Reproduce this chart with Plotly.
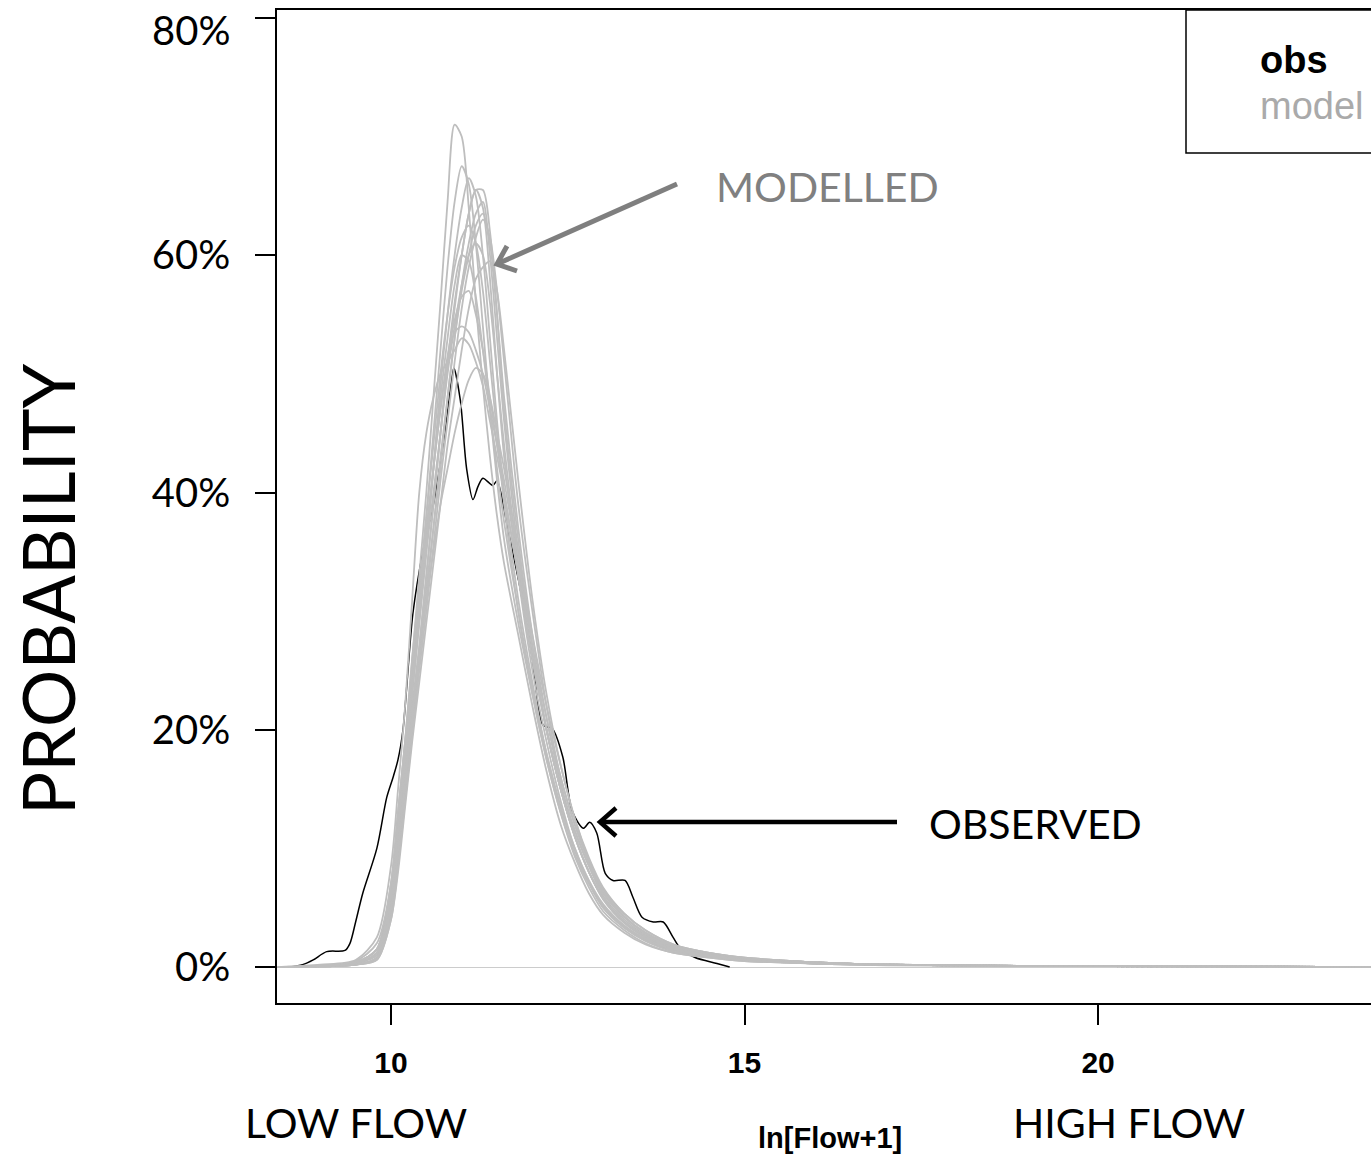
import plotly.graph_objects as go

# ---------------- data ----------------
X_OBS = [8.57, 8.75, 8.9, 9.09, 9.35, 9.42, 9.5, 9.6, 9.8, 9.94, 10.03, 10.1, 10.17, 10.31, 10.45,
         10.6, 10.66, 10.76, 10.86, 10.89, 10.98, 11.07, 11.16, 11.23, 11.30, 11.44, 11.5, 11.65, 11.85, 12.0,
         12.15, 12.28, 12.43, 12.56, 12.72, 12.81, 12.91, 13.03, 13.14, 13.31, 13.42, 13.55, 13.71,
         13.85, 13.99, 14.09, 14.3, 14.61, 14.79]
Y_OBS = [0.0, 0.002, 0.006, 0.013, 0.014, 0.02, 0.038, 0.062, 0.10, 0.143, 0.16, 0.175, 0.20, 0.298, 0.35,
         0.39, 0.41, 0.45, 0.495, 0.505, 0.478, 0.42, 0.394, 0.405, 0.412, 0.406, 0.41, 0.37, 0.312, 0.26,
         0.204, 0.201, 0.177, 0.132, 0.117, 0.122, 0.113, 0.079, 0.073, 0.073, 0.059, 0.042, 0.038,
         0.038, 0.025, 0.016, 0.008, 0.003, 0.0]

X_MOD = [8.4, 9.0, 9.5, 9.8, 10.0, 10.1, 10.2, 10.3, 10.4, 10.5, 10.6, 10.7, 10.8, 10.9, 11.0, 11.1,
         11.2, 11.3, 11.4, 11.5, 11.6, 11.8, 12.0, 12.2, 12.4, 12.6, 12.8, 13.0, 13.3, 13.6, 14.0,
         14.5, 15.0, 16.0, 17.0, 19.0, 23.86]

MOD_A = [0, 0.001, 0.004, 0.015, 0.07, 0.13, 0.19, 0.26, 0.33, 0.40, 0.48, 0.56, 0.645, 0.71, 0.70, 0.64,
         0.56, 0.49, 0.43, 0.38, 0.34, 0.28, 0.22, 0.165, 0.12, 0.088, 0.062, 0.044, 0.029, 0.019, 0.012,
         0.008, 0.005, 0.003, 0.0015, 0.001, 0]
MOD_B = [0, 0.001, 0.003, 0.012, 0.06, 0.12, 0.18, 0.24, 0.31, 0.38, 0.45, 0.52, 0.59, 0.645, 0.675, 0.66,
         0.61, 0.54, 0.47, 0.41, 0.36, 0.29, 0.23, 0.175, 0.13, 0.093, 0.067, 0.047, 0.031, 0.02, 0.012,
         0.008, 0.005, 0.003, 0.002, 0.001, 0]
MOD_C = [0, 0.0005, 0.003, 0.01, 0.055, 0.11, 0.17, 0.23, 0.29, 0.35, 0.42, 0.49, 0.55, 0.60, 0.64, 0.665,
         0.65, 0.60, 0.53, 0.46, 0.40, 0.31, 0.24, 0.18, 0.135, 0.098, 0.071, 0.05, 0.033, 0.022, 0.014,
         0.009, 0.006, 0.003, 0.002, 0.001, 0]
MOD_D = [0, 0.0005, 0.002, 0.008, 0.05, 0.10, 0.16, 0.22, 0.27, 0.33, 0.39, 0.45, 0.51, 0.56, 0.60, 0.635,
         0.655, 0.64, 0.58, 0.50, 0.43, 0.33, 0.25, 0.19, 0.14, 0.10, 0.072, 0.052, 0.034, 0.023, 0.014,
         0.009, 0.006, 0.003, 0.002, 0.001, 0]
MOD_E = [0, 0.0005, 0.002, 0.007, 0.045, 0.09, 0.15, 0.21, 0.26, 0.32, 0.37, 0.43, 0.48, 0.53, 0.575, 0.61,
         0.635, 0.645, 0.60, 0.53, 0.46, 0.35, 0.27, 0.20, 0.15, 0.11, 0.08, 0.057, 0.037, 0.025, 0.015,
         0.01, 0.007, 0.004, 0.002, 0.001, 0]
MOD_F = [0, 0.0005, 0.002, 0.008, 0.045, 0.095, 0.15, 0.20, 0.26, 0.31, 0.37, 0.42, 0.48, 0.53, 0.57, 0.60,
         0.625, 0.635, 0.61, 0.55, 0.48, 0.37, 0.28, 0.21, 0.155, 0.115, 0.085, 0.06, 0.04, 0.027, 0.016,
         0.011, 0.007, 0.004, 0.002, 0.001, 0]
MOD_G = [0, 0.001, 0.004, 0.015, 0.07, 0.13, 0.19, 0.26, 0.32, 0.38, 0.44, 0.50, 0.55, 0.59, 0.615, 0.625,
         0.61, 0.57, 0.51, 0.45, 0.39, 0.30, 0.23, 0.175, 0.13, 0.095, 0.07, 0.05, 0.033, 0.022, 0.013,
         0.009, 0.006, 0.003, 0.002, 0.001, 0]
MOD_H = [0, 0.0005, 0.003, 0.012, 0.06, 0.115, 0.17, 0.23, 0.29, 0.35, 0.40, 0.45, 0.50, 0.54, 0.575, 0.60,
         0.61, 0.60, 0.56, 0.50, 0.44, 0.34, 0.26, 0.20, 0.15, 0.11, 0.08, 0.058, 0.038, 0.026, 0.016,
         0.01, 0.007, 0.004, 0.002, 0.001, 0]
MOD_I = [0, 0.001, 0.004, 0.015, 0.065, 0.12, 0.18, 0.24, 0.30, 0.36, 0.42, 0.47, 0.515, 0.545, 0.565, 0.57,
         0.55, 0.52, 0.48, 0.44, 0.40, 0.33, 0.26, 0.20, 0.15, 0.115, 0.085, 0.062, 0.042, 0.029, 0.018,
         0.012, 0.008, 0.004, 0.002, 0.001, 0]
MOD_J = [0, 0.001, 0.005, 0.02, 0.07, 0.13, 0.19, 0.25, 0.31, 0.37, 0.42, 0.47, 0.51, 0.535, 0.54, 0.535,
         0.52, 0.50, 0.47, 0.44, 0.41, 0.34, 0.27, 0.21, 0.16, 0.12, 0.09, 0.066, 0.045, 0.031, 0.019,
         0.012, 0.008, 0.004, 0.002, 0.001, 0]
MOD_K = [0, 0.002, 0.006, 0.025, 0.085, 0.15, 0.22, 0.31, 0.40, 0.45, 0.48, 0.50, 0.51, 0.52, 0.53, 0.525,
         0.51, 0.49, 0.46, 0.43, 0.40, 0.33, 0.26, 0.20, 0.15, 0.11, 0.08, 0.058, 0.038, 0.026, 0.016,
         0.01, 0.007, 0.004, 0.002, 0.001, 0]
MOD_L = [0, 0.001, 0.004, 0.015, 0.06, 0.11, 0.16, 0.21, 0.26, 0.31, 0.35, 0.39, 0.42, 0.45, 0.475, 0.495,
         0.505, 0.50, 0.48, 0.45, 0.42, 0.35, 0.28, 0.22, 0.17, 0.125, 0.092, 0.067, 0.045, 0.031, 0.019,
         0.012, 0.008, 0.004, 0.002, 0.001, 0]
MOD_M = [0, 0.0005, 0.002, 0.006, 0.04, 0.085, 0.14, 0.195, 0.25, 0.30, 0.355, 0.41, 0.46, 0.51, 0.555, 0.59,
         0.615, 0.63, 0.615, 0.57, 0.51, 0.39, 0.30, 0.22, 0.16, 0.12, 0.088, 0.063, 0.042, 0.028, 0.017,
         0.011, 0.007, 0.004, 0.002, 0.001, 0]
MOD_N = [0, 0.0005, 0.002, 0.006, 0.04, 0.08, 0.135, 0.19, 0.24, 0.29, 0.34, 0.39, 0.44, 0.48, 0.52, 0.555,
         0.58, 0.59, 0.595, 0.57, 0.52, 0.41, 0.31, 0.23, 0.17, 0.125, 0.09, 0.065, 0.043, 0.029, 0.018,
         0.011, 0.007, 0.004, 0.002, 0.001, 0]
MOD_O = [0, 0.0005, 0.002, 0.008, 0.05, 0.10, 0.155, 0.21, 0.27, 0.33, 0.39, 0.45, 0.505, 0.555, 0.60, 0.635,
         0.655, 0.655, 0.62, 0.55, 0.47, 0.36, 0.27, 0.20, 0.15, 0.11, 0.08, 0.058, 0.038, 0.026, 0.016,
         0.01, 0.007, 0.004, 0.002, 0.001, 0]
MOD_P = [0, 0.001, 0.003, 0.012, 0.06, 0.115, 0.175, 0.235, 0.30, 0.36, 0.42, 0.48, 0.53, 0.575, 0.60, 0.595,
         0.565, 0.52, 0.47, 0.42, 0.375, 0.30, 0.235, 0.18, 0.135, 0.10, 0.073, 0.053, 0.035, 0.024, 0.015,
         0.009, 0.006, 0.003, 0.002, 0.001, 0]

MODELS = [MOD_A, MOD_B, MOD_C, MOD_D, MOD_E, MOD_F, MOD_G, MOD_H, MOD_I, MOD_J, MOD_K, MOD_L,
          MOD_M, MOD_N, MOD_O, MOD_P]

Y_TICKS = [0, 0.2, 0.4, 0.6, 0.8]
Y_TICK_TEXT = ["0%", "20%", "40%", "60%", "80%"]
X_TICKS = [10, 15, 20]

# ---------------- layout helpers ----------------
W, H = 1371, 1157
L, T, B = 277, 10, 1003


def px(xp):
    return (xp - L) / (W - L)


def py(yp):
    return (B - yp) / (B - T)


TXT_FONT = "Lato, 'Open Sans', sans-serif"
ARIAL = "'Liberation Sans', Arial, sans-serif"
GRAY = "#bebebe"

fig = go.Figure()

fig.add_trace(go.Scatter(x=X_OBS, y=Y_OBS, mode="lines", name="obs",
                         line=dict(color="black", width=1.5, shape="spline", smoothing=0.8),
                         showlegend=False))
for i, ys in enumerate(MODELS):
    fig.add_trace(go.Scatter(x=X_MOD, y=ys, mode="lines", name="model",
                             line=dict(color=GRAY, width=1.8, shape="spline", smoothing=0.8),
                             showlegend=False))

# the top label sits slightly below its tick in the reference (it would touch the page edge)
axis_tick_text = Y_TICK_TEXT[:-1] + [""]

fig.update_layout(
    width=W, height=H,
    margin=dict(l=L, r=0, t=T, b=H - B, pad=0, autoexpand=False),
    plot_bgcolor="white", paper_bgcolor="white",
    showlegend=False,
    xaxis=dict(range=[8.388, 23.86], tickvals=X_TICKS, showgrid=False, zeroline=False,
               showline=True, linecolor="black", linewidth=1.5, mirror=True, automargin=False,
               ticks="outside", ticklen=20, tickwidth=1.5, tickcolor="black",
               tickfont=dict(family=ARIAL, size=30, color="black", weight="bold"),
               ticklabelstandoff=12),
    yaxis=dict(range=[-0.0303, 0.8067], tickvals=Y_TICKS, ticktext=axis_tick_text, showgrid=False,
               zeroline=True, zerolinecolor="#cccccc", zerolinewidth=1, automargin=False,
               showline=True, linecolor="black", linewidth=1.5,
               ticks="outside", ticklen=20, tickwidth=1.5, tickcolor="black",
               tickfont=dict(family=TXT_FONT, size=40, color="black"),
               ticklabelstandoff=17),
)

# legend box (cut off by the right edge like in the reference)
fig.add_shape(type="rect", xref="paper", yref="paper", x0=px(1186), x1=px(1400), y0=py(153), y1=py(10),
              line=dict(color="black", width=1.5), fillcolor="rgba(0,0,0,0)")


def note(text, x, y, size, color="black", family=TXT_FONT, weight="normal", angle=0, xanchor="center"):
    fig.add_annotation(text=text, xref="paper", yref="paper", x=px(x), y=py(y), showarrow=False,
                       xanchor=xanchor, yanchor="middle", textangle=angle,
                       font=dict(family=family, size=size, color=color, weight=weight))


note(Y_TICK_TEXT[-1], 232, 30, 40, xanchor="right")
note("obs", 1258, 60, 38, family=ARIAL, weight="bold", xanchor="left")
note("model", 1258, 106, 38, color="#aaaaaa", family=ARIAL, xanchor="left")

note("MODELLED", 827, 186, 41, color="#808080")
note("OBSERVED", 1035, 823, 41)
note("LOW FLOW", 356, 1122, 41)
note("HIGH FLOW", 1129, 1122, 41)
note("ln[Flow+1]", 830, 1138, 29, family=ARIAL, weight="bold")
note("PROBABILITY", 47, 590, 72, angle=-90)


# arrows with open chevron heads (pixel positions of the callouts)
def arrow(tail, tip, arm1, arm2, color, width):
    fig.add_shape(type="line", xref="paper", yref="paper",
                  x0=px(tail[0]), y0=py(tail[1]), x1=px(tip[0]), y1=py(tip[1]),
                  line=dict(color=color, width=width))
    path = "M {} {} L {} {} L {} {}".format(px(arm1[0]), py(arm1[1]), px(tip[0]), py(tip[1]),
                                            px(arm2[0]), py(arm2[1]))
    fig.add_shape(type="path", xref="paper", yref="paper", path=path,
                  line=dict(color=color, width=width))


arrow((677, 184), (497, 264), (507, 246), (517, 271), "#7f7f7f", 5)
arrow((897, 822), (600, 822), (616, 808), (616, 836), "black", 4.5)

fig.write_html("out.html")
